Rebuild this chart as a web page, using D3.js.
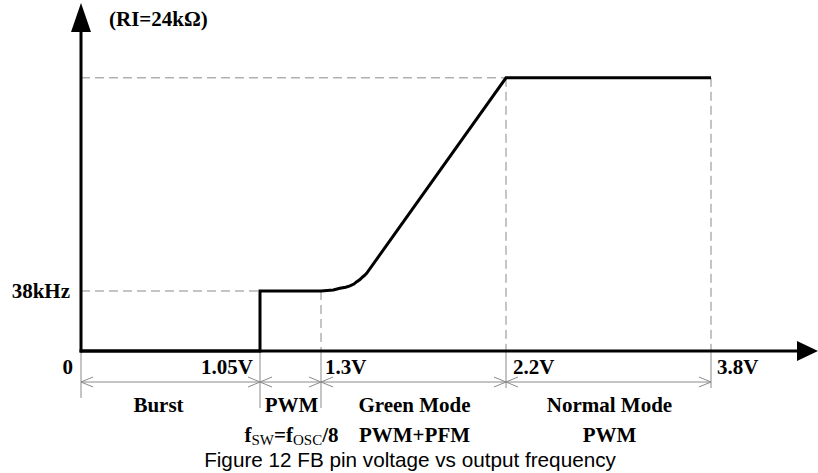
<!DOCTYPE html>
<html>
<head>
<meta charset="utf-8">
<script src="https://cdn.jsdelivr.net/npm/d3@7"></script>
<style>
  html, body { margin: 0; padding: 0; background: #fff; }
  svg { display: block; }
  .serif { font-family: "Liberation Serif", "Times New Roman", serif; font-weight: bold; fill: #000; }
  .caption { font-family: "Liberation Sans", Arial, sans-serif; fill: #000; }
</style>
</head>
<body>
<svg id="chart" width="818" height="473"></svg>
<script>
// FB pin voltage breakpoints (V) and their labels
const boundaries = [0, 1.05, 1.3, 2.2, 3.8];
const boundaryLabels = ["0", "1.05V", "1.3V", "2.2V", "3.8V"];

// Operating modes between consecutive breakpoints
const modeNames = ["Burst", "PWM", "Green Mode", "Normal Mode"];
// second-line descriptions: arrays of [text, isSubscript]
const modeDetails = [
  [],
  [["f", false], ["SW", true], ["=f", false], ["OSC", true], ["/8", false]],
  [["PWM+PFM", false]],
  [["PWM", false]]
];

// Output frequency curve (V, kHz)
const curveVoltage = [0, 1.05, 1.05, 1.3, 1.36, 1.392, 1.42, 1.441, 1.46, 1.474, 1.488, 1.499, 1.511, 1.522, 2.2, 3.8];
const curveFreq    = [0, 0,    38,   38,  38.6, 39.7,  40.4, 41.2,  42.4, 43.9,  45.1,  46.5,  47.8,  49.2,  173, 173];

// Frequency levels marked on the vertical axis
const freqLevels = [38, 173];
const freqLabels = ["38kHz", ""];
const resistorNote = "(RI=24kΩ)";
const caption = "Figure 12 FB pin voltage vs output frequency";

const svg = d3.select("#chart");
const fs = 21;

// piecewise horizontal scale: the schematic is not drawn to a uniform voltage scale
const x = d3.scaleLinear()
  .domain(boundaries)
  .range([81, 260, 321, 506, 711]);
const y = d3.scaleLinear()
  .domain([0, 180])
  .range([351, 351 - 180 * 60 / 38]);

const grey = "#8a8a8a";
const x0 = x(0), y0 = y(0);

// dashed guide lines
const guides = svg.append("g")
  .attr("stroke", grey).attr("stroke-width", 1).attr("stroke-dasharray", "9,5").attr("fill", "none");
guides.append("line").attr("x1", x0).attr("x2", x(1.05)).attr("y1", y(38)).attr("y2", y(38));
guides.append("line").attr("x1", x0).attr("x2", x(2.2)).attr("y1", y(173)).attr("y2", y(173));
guides.append("line").attr("x1", x(1.3)).attr("x2", x(1.3)).attr("y1", y(38)).attr("y2", y0);
guides.append("line").attr("x1", x(2.2)).attr("x2", x(2.2)).attr("y1", y(173)).attr("y2", y0);
guides.append("line").attr("x1", x(3.8)).attr("x2", x(3.8)).attr("y1", y(173)).attr("y2", y0);

// extension lines below the axis and the dimension line
const extDepth = [398, 408, 408, 388, 388];
const dimY = 382;
const dims = svg.append("g").attr("stroke", grey).attr("stroke-width", 1).attr("fill", "none");
boundaries.forEach((b, i) => {
  dims.append("line").attr("x1", x(b)).attr("x2", x(b)).attr("y1", y0).attr("y2", extDepth[i]);
});
dims.append("line").attr("x1", x0).attr("x2", x(3.8)).attr("y1", dimY).attr("y2", dimY);
// open arrowheads at both ends of every interval
for (let i = 0; i < boundaries.length - 1; i++) {
  const a = x(boundaries[i]), b = x(boundaries[i + 1]);
  dims.append("path").attr("d", `M${a + 12},${dimY - 5}L${a},${dimY}L${a + 12},${dimY + 5}`);
  dims.append("path").attr("d", `M${b - 12},${dimY - 5}L${b},${dimY}L${b - 12},${dimY + 5}`);
}

// frequency curve
const line = d3.line()
  .x(d => x(d[0]))
  .y(d => y(d[1]))
  .curve(d3.curveLinear);
svg.append("path")
  .datum(d3.zip(curveVoltage, curveFreq))
  .attr("d", line)
  .attr("fill", "none")
  .attr("stroke", "#000")
  .attr("stroke-width", 3)
  .attr("stroke-linejoin", "miter");

// axes with solid arrowheads
svg.append("line").attr("x1", x0).attr("x2", x0).attr("y1", y0 + 1.5).attr("y2", 30)
  .attr("stroke", "#000").attr("stroke-width", 3);
svg.append("path").attr("d", `M${x0},3L${x0 + 10},32L${x0 - 10},32Z`).attr("fill", "#000");
svg.append("line").attr("x1", x0 - 1.5).attr("x2", 800).attr("y1", y0).attr("y2", y0)
  .attr("stroke", "#000").attr("stroke-width", 3);
svg.append("path").attr("d", `M818,${y0}L797,${y0 - 10}L797,${y0 + 10}Z`).attr("fill", "#000");

// voltage labels along the horizontal axis
const labelOffset = [-8, -7, 4, 7, 6];
boundaries.forEach((b, i) => {
  svg.append("text").attr("class", "serif")
    .attr("x", x(b) + labelOffset[i])
    .attr("y", 374)
    .attr("font-size", fs)
    .attr("text-anchor", i < 2 ? "end" : "start")
    .text(boundaryLabels[i]);
});

// frequency labels on the vertical axis
freqLevels.forEach((f, i) => {
  if (!freqLabels[i]) return;
  svg.append("text").attr("class", "serif")
    .attr("x", x0 - 11).attr("y", y(f) + 7)
    .attr("font-size", fs).attr("text-anchor", "end")
    .text(freqLabels[i]);
});
svg.append("text").attr("class", "serif")
  .attr("x", 109).attr("y", 26).attr("font-size", fs)
  .text(resistorNote);

// mode names and details
modeNames.forEach((name, i) => {
  const mid = (x(boundaries[i]) + x(boundaries[i + 1])) / 2 + (i === 0 ? -12 : 1);
  svg.append("text").attr("class", "serif")
    .attr("x", mid).attr("y", 412).attr("font-size", fs).attr("text-anchor", "middle")
    .text(name);
  if (modeDetails[i].length) {
    const t = svg.append("text").attr("class", "serif")
      .attr("x", mid).attr("y", 442).attr("font-size", fs).attr("text-anchor", "middle");
    let shifted = false;
    modeDetails[i].forEach(([s, sub]) => {
      const ts = t.append("tspan").text(s);
      if (sub) {
        ts.attr("font-size", 15).attr("font-weight", "normal");
        if (!shifted) { ts.attr("dy", 3); shifted = true; }
      } else if (shifted) {
        ts.attr("dy", -3); shifted = false;
      }
    });
  }
});

// caption
svg.append("text").attr("class", "caption")
  .attr("x", 410).attr("y", 467).attr("font-size", 20.7).attr("text-anchor", "middle")
  .text(caption);
</script>
</body>
</html>
